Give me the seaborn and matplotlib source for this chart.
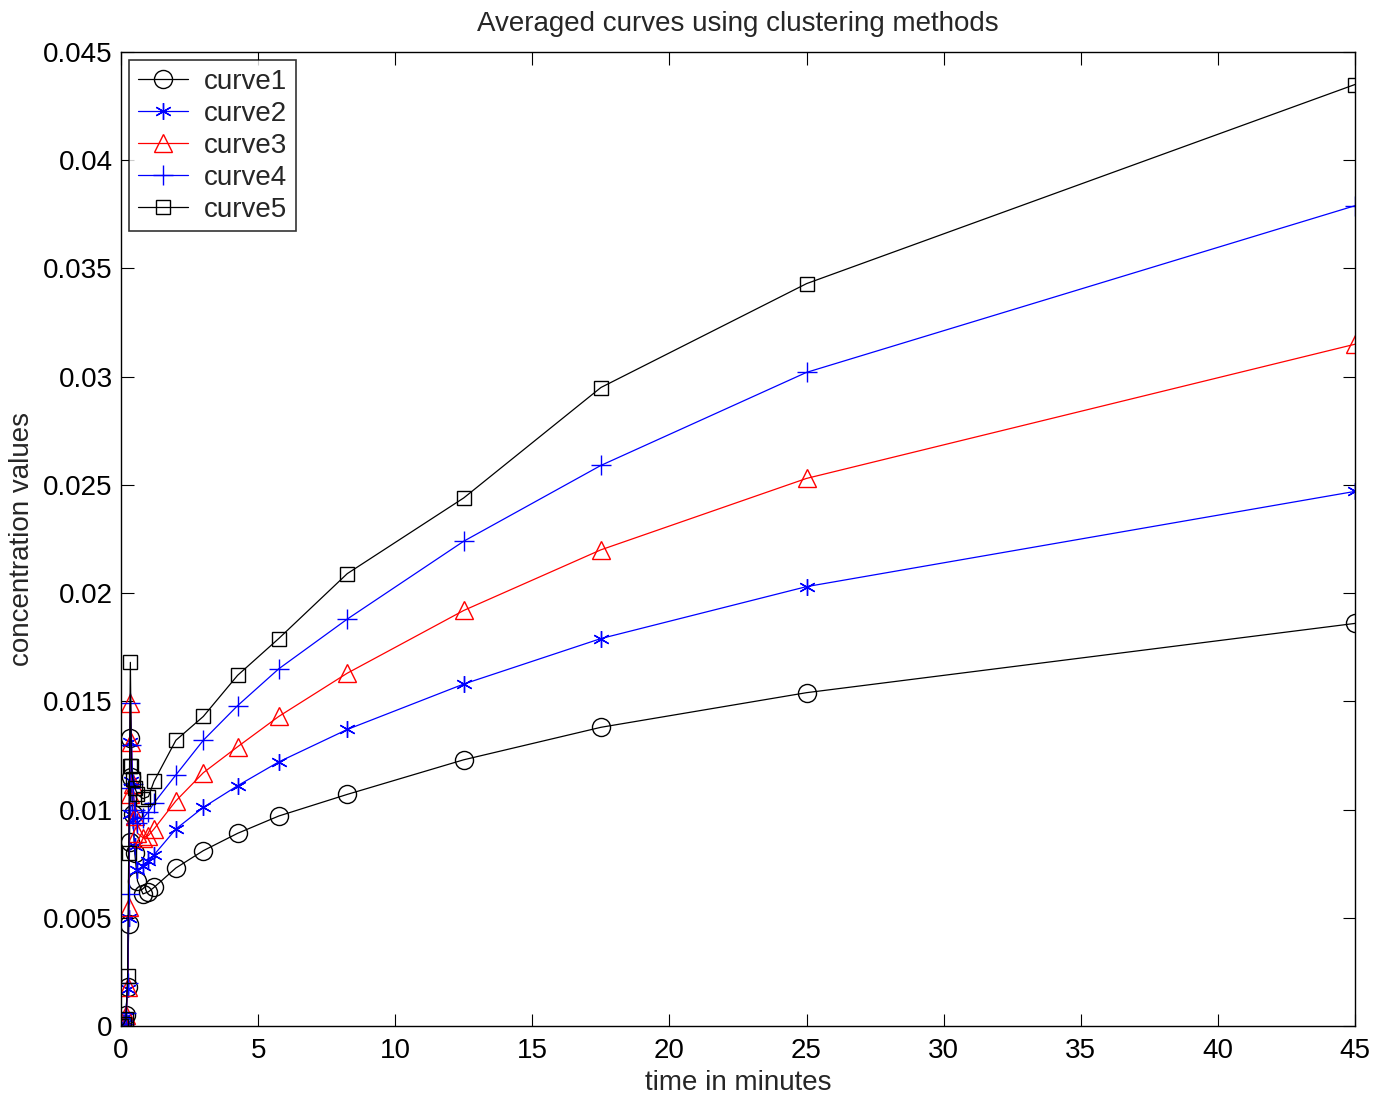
import numpy as np
import pandas as pd
import matplotlib
matplotlib.use("Agg")
import matplotlib.pyplot as plt
import seaborn as sns

# Sampling times (minutes)
time_min = [0, 0.1, 0.18, 0.24, 0.28, 0.31, 0.34, 0.38, 0.43, 0.5, 0.6, 0.8, 1.0, 1.2,
            2, 3, 4.25, 5.75, 8.25, 12.5, 17.5, 25, 45]

curve1 = [0, 0.0001, 0.0005, 0.0018, 0.0047, 0.0085, 0.0133, 0.0115, 0.0098, 0.0080,
          0.0067, 0.0061, 0.0062, 0.0064, 0.0073, 0.0081, 0.0089, 0.0097, 0.0107,
          0.0123, 0.0138, 0.0154, 0.0186]
curve2 = [0, 0.0001, 0.0004, 0.0017, 0.0050, 0.0098, 0.0131, 0.0113, 0.0095, 0.0083,
          0.0072, 0.0074, 0.0076, 0.0079, 0.0091, 0.0101, 0.0111, 0.0122, 0.0137,
          0.0158, 0.0179, 0.0203, 0.0247]
curve3 = [0, 0.0001, 0.0005, 0.0018, 0.0055, 0.0107, 0.0149, 0.0131, 0.0112, 0.0097,
          0.0089, 0.0087, 0.0088, 0.0091, 0.0104, 0.0117, 0.0129, 0.0143, 0.0163,
          0.0192, 0.0220, 0.0253, 0.0315]
curve4 = [0, 0.0001, 0.0006, 0.0020, 0.0061, 0.0110, 0.0149, 0.0130, 0.0112, 0.0100,
          0.0094, 0.0096, 0.0099, 0.0103, 0.0116, 0.0132, 0.0148, 0.0165, 0.0188,
          0.0224, 0.0259, 0.0302, 0.0379]
curve5 = [0, 0.0001, 0.0003, 0.0023, 0.0080, 0.0120, 0.0168, 0.0120, 0.0114, 0.0110,
          0.0107, 0.0105, 0.0106, 0.0113, 0.0132, 0.0143, 0.0162, 0.0179, 0.0209,
          0.0244, 0.0295, 0.0343, 0.0435]

curve_names = ["curve1", "curve2", "curve3", "curve4", "curve5"]
curve_values = [curve1, curve2, curve3, curve4, curve5]
curve_colors = ["black", "blue", "red", "blue", "black"]
curve_markers = ["o", (6, 2, 0), "^", "+", "s"]
marker_sizes = [13, 12, 13, 14, 10.5]

x_ticks = [0, 5, 10, 15, 20, 25, 30, 35, 40, 45]
y_ticks = [0, 0.005, 0.01, 0.015, 0.02, 0.025, 0.03, 0.035, 0.04, 0.045]
y_tick_labels = ["0", "0.005", "0.01", "0.015", "0.02", "0.025", "0.03", "0.035", "0.04", "0.045"]

df = pd.concat(
    [pd.DataFrame({"time": time_min, "value": vals, "curve": name})
     for name, vals in zip(curve_names, curve_values)],
    ignore_index=True,
)

sns.set_theme(style="white")
plt.rcParams["font.family"] = ["Liberation Sans", "DejaVu Sans"]
FS = 20

fig = plt.figure(figsize=(13.77, 10.98), dpi=100)
ax = fig.add_axes([0.0879, 0.0656, 0.8961, 0.8870])

# one seaborn call per curve so each gets its own open marker
for name, color, marker, ms in zip(curve_names, curve_colors, curve_markers, marker_sizes):
    sns.lineplot(
        data=df[df["curve"] == name], x="time", y="value",
        color=color, marker=marker, markersize=ms,
        markerfacecolor="none", markeredgecolor=color, markeredgewidth=1.0,
        sort=False, estimator=None, legend=False, linewidth=0.9, ax=ax,
    )

lines = list(ax.lines)

leg = ax.legend(lines, curve_names, loc="upper left", fontsize=FS,
                frameon=True, fancybox=False, borderpad=0.3, handlelength=1.8,
                labelspacing=0.22, handletextpad=0.6, borderaxespad=0.3)
leg.get_frame().set_edgecolor("black")
leg.get_frame().set_linewidth(1.2)

ax.set_xlim(0, 45)
ax.set_ylim(0, 0.045)
ax.set_xticks(x_ticks)
ax.set_yticks(y_ticks)
ax.set_yticklabels(y_tick_labels)
ax.tick_params(direction="in", length=9, width=0.8, labelsize=FS, colors="black",
               top=True, right=True, bottom=True, left=True)
ax.tick_params(axis="x", pad=9)
ax.tick_params(axis="y", pad=6)
for side in ax.spines.values():
    side.set_color("black")
    side.set_linewidth(1.0)

ax.set_title("Averaged curves using clustering methods", fontsize=FS, pad=15)
ax.set_xlabel("time in minutes", fontsize=FS, labelpad=4)
ax.set_ylabel("concentration values", fontsize=FS, labelpad=6)

fig.savefig("out.png", dpi=100)
